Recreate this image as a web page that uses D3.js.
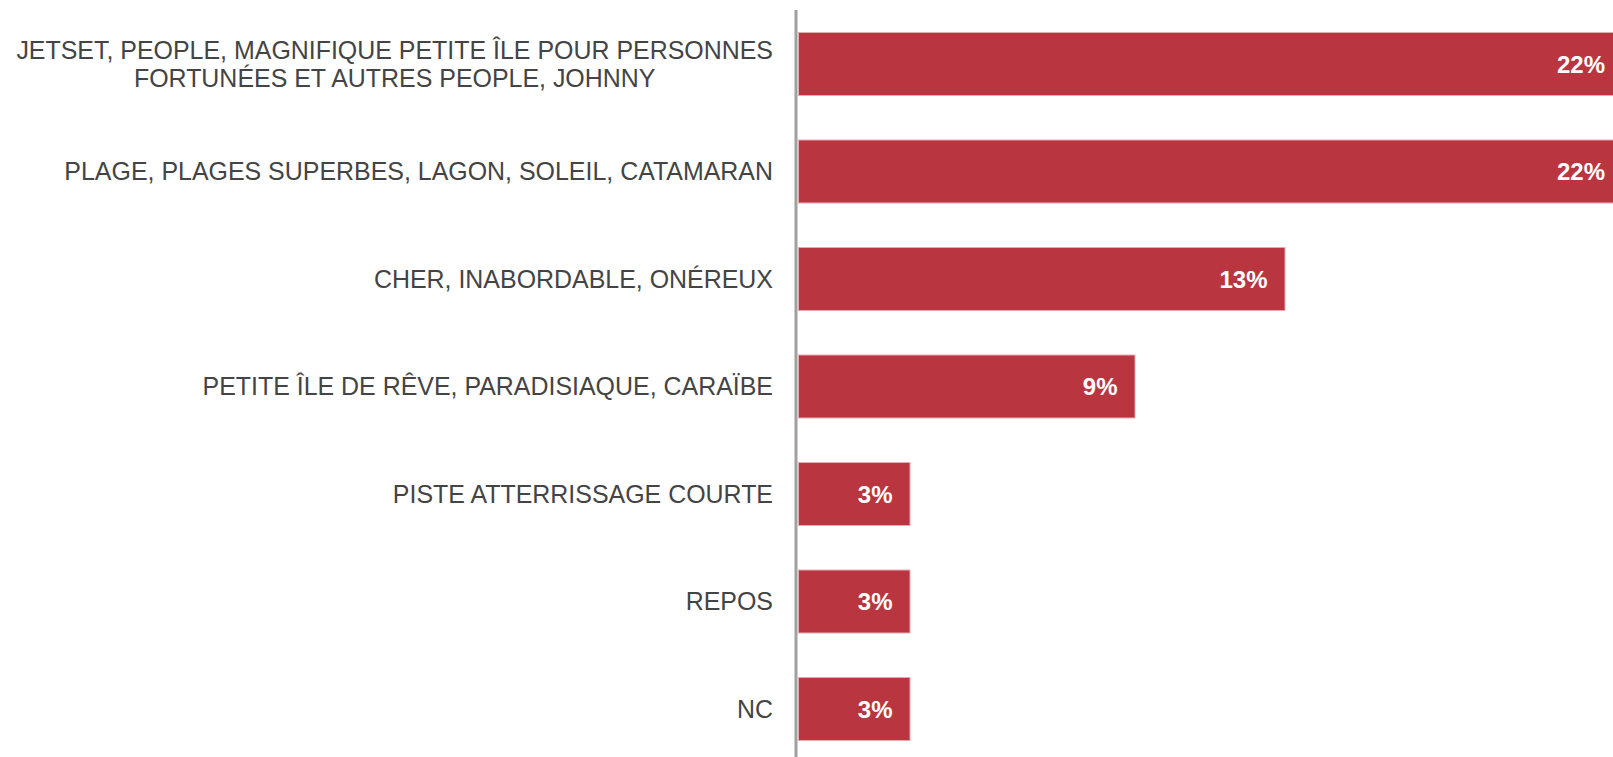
<!DOCTYPE html>
<html>
<head>
<meta charset="utf-8">
<script src="https://cdn.jsdelivr.net/npm/d3@7"></script>
<style>
  html, body { margin: 0; padding: 0; background: #ffffff; }
  svg { display: block; }
</style>
</head>
<body>
<script>
// Categories (a "\n" splits a label over two lines)
const categories = [
  "JETSET, PEOPLE, MAGNIFIQUE PETITE ÎLE POUR PERSONNES\nFORTUNÉES ET AUTRES PEOPLE, JOHNNY",
  "PLAGE, PLAGES SUPERBES, LAGON, SOLEIL, CATAMARAN",
  "CHER, INABORDABLE, ONÉREUX",
  "PETITE ÎLE DE RÊVE, PARADISIAQUE, CARAÏBE",
  "PISTE ATTERRISSAGE COURTE",
  "REPOS",
  "NC"
];
// Share of answers, in percent
const values = [22, 22, 13, 9, 3, 3, 3];

const W = 1613, H = 757;
const axisX = 796;
const barColor = "#b93540";

const svg = d3.select("body").append("svg")
  .attr("width", W).attr("height", H);

const x = d3.scaleLinear().domain([0, 22]).range([798, 798 + 825]);
const y = d3.scaleBand().domain(d3.range(categories.length))
  .range([10.25, 762.75]).paddingInner(0.405).paddingOuter(0.2025);

// Bars
svg.append("g").selectAll("rect")
  .data(values)
  .join("rect")
  .attr("x", x(0) + 0.5)
  .attr("y", (d, i) => y(i) + 0.5)
  .attr("width", d => x(d) - x(0) - 1)
  .attr("height", y.bandwidth() - 1)
  .attr("fill", barColor)
  .attr("stroke", "#e7a9b0")
  .attr("stroke-width", 1);

// Value labels inside the bars
svg.append("g").selectAll("text")
  .data(values)
  .join("text")
  .attr("x", d => x(d) - 18)
  .attr("y", (d, i) => y(i) + y.bandwidth() / 2)
  .attr("dy", "0.355em")
  .attr("text-anchor", "end")
  .attr("fill", "#ffffff")
  .style("font-family", "'Liberation Sans', Arial, sans-serif")
  .style("font-weight", "bold")
  .style("font-size", "24px")
  .text(d => d + "%");

// Category labels, right-aligned block, lines centred within it
const labelRight = 773;
const lineH = 28.6;
const labels = svg.append("g")
  .style("font-family", "'Liberation Sans', Arial, sans-serif")
  .style("font-size", "24.95px")
  .attr("fill", "#444444");

categories.forEach((c, i) => {
  const lines = c.split("\n");
  const cy = y(i) + y.bandwidth() / 2;
  const t = labels.append("text").attr("text-anchor", "middle");
  const spans = lines.map((ln, k) => t.append("tspan")
    .attr("y", cy + (k - (lines.length - 1) / 2) * lineH)
    .attr("dy", "0.355em")
    .text(ln));
  const maxW = d3.max(spans, s => s.node().getComputedTextLength());
  spans.forEach(s => s.attr("x", labelRight - maxW / 2));
});

// Category axis line
svg.append("line")
  .attr("x1", axisX).attr("x2", axisX)
  .attr("y1", 10).attr("y2", H)
  .attr("stroke", "#a0a0a0")
  .attr("stroke-width", 3);
</script>
</body>
</html>
